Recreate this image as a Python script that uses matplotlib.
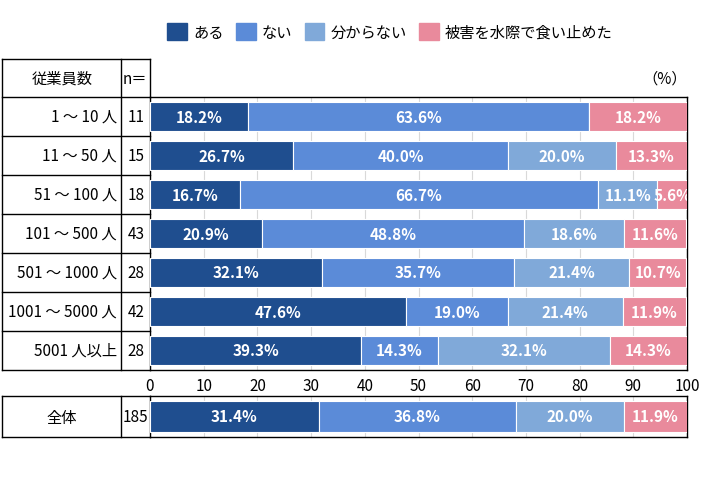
import numpy as np
import matplotlib.pyplot as plt
from matplotlib.lines import Line2D
from matplotlib.patches import Patch

plt.rcParams['font.family'] = ['Noto Sans CJK JP', 'DejaVu Sans']

# data
groups = ["1 ～ 10 人", "11 ～ 50 人", "51 ～ 100 人", "101 ～ 500 人",
          "501 ～ 1000 人", "1001 ～ 5000 人", "5001 人以上"]
n_vals = ["11", "15", "18", "43", "28", "42", "28"]
aru = [18.2, 26.7, 16.7, 20.9, 32.1, 47.6, 39.3]
nai = [63.6, 40.0, 66.7, 48.8, 35.7, 19.0, 14.3]
wakaranai = [0.0, 20.0, 11.1, 18.6, 21.4, 21.4, 32.1]
kuitome = [18.2, 13.3, 5.6, 11.6, 10.7, 11.9, 14.3]
total_label = "全体"
total_n = "185"
total_vals = [31.4, 36.8, 20.0, 11.9]
series_names = ["ある", "ない", "分からない", "被害を水際で食い止めた"]
colors = ["#1F4E8F", "#5B8BD8", "#80A9D9", "#E98A9C"]

W, H = 701, 481
fig = plt.figure(figsize=(7.01, 4.81), dpi=100)

def fx(px):
    return px / W

def fy(py):
    return 1 - py / H

ax = fig.add_axes([fx(150), fy(371), fx(687) - fx(150), fy(98) - fy(371)])
ax2 = fig.add_axes([fx(150), fy(438), fx(687) - fx(150), fy(397) - fy(438)])

def draw_bars(a, data, ypos, height):
    data = np.array(data, dtype=float)
    left = np.zeros(data.shape[0])
    for k in range(data.shape[1]):
        vals = data[:, k]
        a.barh(ypos, vals, left=left, height=height, color=colors[k],
               edgecolor="white", linewidth=0.8, zorder=3)
        for y, l, v in zip(ypos, left, vals):
            if v > 0:
                a.text(l + v / 2, y, f"{v:.1f}%", ha="center", va="center",
                       color="white", fontsize=11, fontweight="bold", zorder=4,
                       clip_on=True)
        left = left + vals

ypos = np.arange(len(groups))
data = np.column_stack([aru, nai, wakaranai, kuitome])
draw_bars(ax, data, ypos, 0.72)
ax.set_ylim(len(groups) - 0.5, -0.5)
draw_bars(ax2, np.array([total_vals]), [0], 0.74)
ax2.set_ylim(0.5, -0.5)

for a in (ax, ax2):
    a.set_xlim(0, 100)
    a.set_xticks(np.arange(0, 101, 10))
    a.grid(axis="x", color="#D9D9D9", linewidth=0.8, zorder=0)
    a.set_yticks([])
    a.tick_params(length=0)
    for s in a.spines.values():
        s.set_color("black")
        s.set_linewidth(1.0)
ax.tick_params(axis="x", labelsize=11, pad=5)
ax2.set_xticklabels([])

# table on the left
def hline(py, x0=2, x1=150):
    fig.add_artist(Line2D([fx(x0), fx(x1)], [fy(py), fy(py)], color="black", lw=1.0))

def vline(px, y0, y1):
    fig.add_artist(Line2D([fx(px), fx(px)], [fy(y0), fy(y1)], color="black", lw=1.0))

row_h = (371 - 98) / len(groups)
hline(60)
for i in range(len(groups) + 1):
    hline(98 + i * row_h)
vline(2, 60, 371)
vline(121, 60, 371)
vline(150, 60, 98)
hline(397)
hline(438)
vline(2, 397, 438)
vline(121, 397, 438)

fs = 11
fig.text(fx(62), fy(79), "従業員数", ha="center", va="center", fontsize=fs)
fig.text(fx(123), fy(79), "n＝", ha="left", va="center", fontsize=fs)
fig.text(fx(687), fy(79), "（%）", ha="right", va="center", fontsize=fs)
for i, (g, n) in enumerate(zip(groups, n_vals)):
    yc = 98 + (i + 0.5) * row_h
    fig.text(fx(117), fy(yc), g, ha="right", va="center", fontsize=fs)
    fig.text(fx(136), fy(yc), n, ha="center", va="center", fontsize=fs)
fig.text(fx(62), fy(418), total_label, ha="center", va="center", fontsize=fs)
fig.text(fx(135), fy(418), total_n, ha="center", va="center", fontsize=fs)

handles = [Patch(facecolor=c, edgecolor=c) for c in colors]
fig.legend(handles, series_names, loc="center", bbox_to_anchor=(fx(390), fy(33)),
           ncol=4, frameon=False, fontsize=fs, handlelength=1.3, handleheight=1.3,
           columnspacing=0.8, handletextpad=0.4)

fig.savefig("out.png", dpi=100)
